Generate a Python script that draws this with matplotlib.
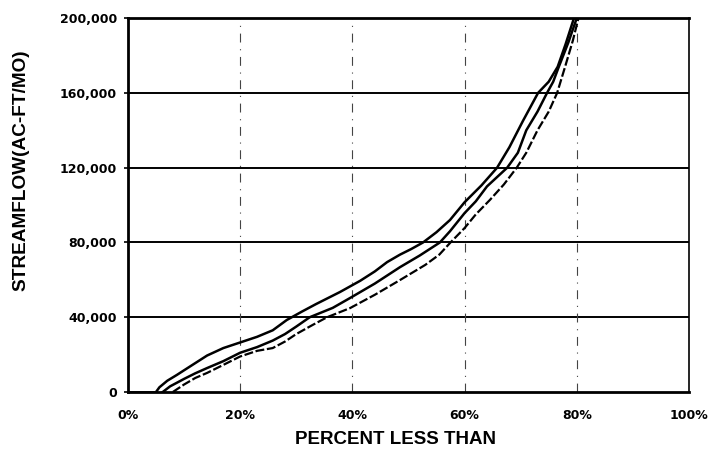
import matplotlib
matplotlib.use('Agg')
import matplotlib.pyplot as plt

plt.rcParams['font.family'] = ['Liberation Sans', 'DejaVu Sans']

# percent less than (%) / streamflow (ac-ft/mo)
upper_pct = [5.0, 5.6, 7.0, 8.7, 11.5, 14.1, 17.0, 20.0, 23.0, 25.8, 28.3, 31.0,
             33.5, 37.8, 41.4, 44.0, 46.2, 48.5, 50.5, 52.6, 55.0, 57.4, 60.0,
             63.0, 65.8, 68.0, 70.4, 73.1, 75.0, 76.6, 78.0, 79.5]
upper_flow = [0, 2500, 6000, 9100, 14500, 19500, 23500, 26500, 29500, 33000, 38500, 43000,
              47000, 53500, 59500, 64500, 69500, 73500, 76500, 80000, 85500, 92000, 101500,
              110500, 120000, 131000, 145000, 160000, 166000, 174000, 186000, 200000]

middle_pct = [6.2, 7.5, 10.0, 12.0, 14.1, 17.0, 20.0, 23.0, 25.8, 28.0, 30.0, 32.4,
              36.5, 39.6, 44.0, 48.5, 52.0, 55.6, 57.4, 60.0, 62.0, 64.0, 67.6,
              69.5, 71.0, 73.0, 74.7, 75.8, 76.8, 78.5, 80.0]
middle_flow = [0, 3000, 7000, 10000, 12800, 16500, 21000, 24000, 27500, 31000, 35000, 40000,
               45000, 50300, 58000, 66800, 73000, 80000, 86000, 95700, 102000, 110000, 120000,
               128000, 140000, 150000, 160000, 166000, 174000, 187000, 200000]

lower_pct = [8.0, 10.0, 12.0, 14.1, 17.0, 20.0, 23.0, 25.8, 28.0, 30.0, 33.0, 35.5,
             39.6, 44.0, 48.5, 53.0, 55.5, 57.4, 60.0, 62.0, 64.5, 67.0, 69.3,
             71.0, 73.0, 75.0, 76.5, 77.9, 79.3, 80.3]
lower_flow = [0, 4000, 7500, 10200, 14500, 19000, 22000, 23500, 27000, 31000, 36000, 40000,
              44900, 52000, 59900, 68000, 73500, 79700, 87700, 95000, 102700, 111000, 120000,
              128000, 140000, 150000, 160000, 173800, 188000, 200000]

x_ticks = [0, 20, 40, 60, 80, 100]
x_labels = ['0%', '20%', '40%', '60%', '80%', '100%']
y_ticks = [0, 40000, 80000, 120000, 160000, 200000]
y_labels = ['0', '40,000', '80,000', '120,000', '160,000', '200,000']

fig = plt.figure(figsize=(7.11, 4.54), dpi=100)
ax = fig.add_axes([0.18, 0.1366, 0.789, 0.8234])

# grid: solid horizontals, broken dash-dot verticals
for yv in y_ticks[1:-1]:
    ax.axhline(yv, color='black', lw=1.4, zorder=1)
for xv in x_ticks[1:-1]:
    ax.axvline(xv, color='#444444', lw=0.8, ls=(0, (8, 6, 1, 6)), zorder=1)

ax.plot(upper_pct, upper_flow, color='black', lw=1.8, zorder=3)
ax.plot(middle_pct, middle_flow, color='black', lw=1.8, zorder=3)
ax.plot(lower_pct, lower_flow, color='black', lw=1.6, ls=(0, (4, 1.2)), zorder=3)
# flat zero part before the curves start
ax.plot([0, upper_pct[0]], [0, 0], color='black', lw=2, zorder=3)

ax.set_xlim(0, 100)
ax.set_ylim(0, 200000)
ax.set_xticks(x_ticks)
ax.set_xticklabels(x_labels)
ax.set_yticks(y_ticks)
ax.set_yticklabels(y_labels)
ax.tick_params(axis='x', length=0, pad=12)
ax.tick_params(axis='y', length=3, width=1.2, pad=5)
for lab in ax.get_xticklabels() + ax.get_yticklabels():
    lab.set_fontweight('bold')
    lab.set_fontsize(9)
    lab.set_family('DejaVu Sans')

for side in ['left', 'top', 'bottom']:
    ax.spines[side].set_linewidth(2)
ax.spines['right'].set_linewidth(1.2)

ax.set_xlabel('PERCENT LESS THAN', fontsize=13.5, fontweight='bold')
ax.xaxis.set_label_coords(0.476, -0.105)
ax.set_ylabel('STREAMFLOW(AC-FT/MO)', fontsize=13.7, fontweight='bold')
ax.yaxis.set_label_coords(-0.175, 0.594)

plt.savefig('out.png', dpi=100)
